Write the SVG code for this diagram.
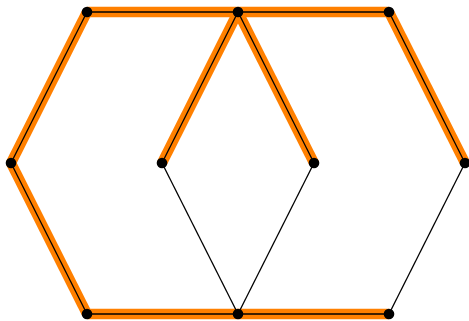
<svg xmlns="http://www.w3.org/2000/svg" width="469" height="321" viewBox="0 0 469 321">
<style>
.hl{stroke:#ff8000;stroke-width:10.5;fill:none;stroke-linecap:butt}
.e{stroke:#000;stroke-width:1.3;fill:none}
.n{fill:#000}
</style>
<rect width="469" height="321" fill="#fff"/>
<g id="connectors">
<g id="highlight">
<line class="hl" x1="87" y1="12" x2="238" y2="12"/>
<line class="hl" x1="238" y1="12" x2="389" y2="12"/>
<line class="hl" x1="87" y1="12" x2="11" y2="163"/>
<line class="hl" x1="11" y1="163" x2="87" y2="314"/>
<line class="hl" x1="87" y1="314" x2="238" y2="314"/>
<line class="hl" x1="238" y1="314" x2="389" y2="314"/>
<line class="hl" x1="389" y1="12" x2="465" y2="163"/>
<line class="hl" x1="238" y1="12" x2="162" y2="163"/>
<line class="hl" x1="238" y1="12" x2="314" y2="163"/>
</g>
<line class="e" x1="87" y1="12" x2="238" y2="12"/>
<line class="e" x1="238" y1="12" x2="389" y2="12"/>
<line class="e" x1="87" y1="12" x2="11" y2="163"/>
<line class="e" x1="11" y1="163" x2="87" y2="314"/>
<line class="e" x1="87" y1="314" x2="238" y2="314"/>
<line class="e" x1="238" y1="314" x2="389" y2="314"/>
<line class="e" x1="389" y1="12" x2="465" y2="163"/>
<line class="e" x1="238" y1="12" x2="162" y2="163"/>
<line class="e" x1="238" y1="12" x2="314" y2="163"/>
<line class="e" x1="465" y1="163" x2="389" y2="314"/>
<line class="e" x1="162" y1="163" x2="238" y2="314"/>
<line class="e" x1="314" y1="163" x2="238" y2="314"/>
</g>
<g id="n1"><circle class="n" cx="87" cy="12" r="5.3"/></g>
<g id="n2"><circle class="n" cx="238" cy="12" r="5.3"/></g>
<g id="n3"><circle class="n" cx="389" cy="12" r="5.3"/></g>
<g id="n4"><circle class="n" cx="11" cy="163" r="5.3"/></g>
<g id="n5"><circle class="n" cx="162" cy="163" r="5.3"/></g>
<g id="n6"><circle class="n" cx="314" cy="163" r="5.3"/></g>
<g id="n7"><circle class="n" cx="465" cy="163" r="5.3"/></g>
<g id="n8"><circle class="n" cx="87" cy="314" r="5.3"/></g>
<g id="n9"><circle class="n" cx="238" cy="314" r="5.3"/></g>
<g id="n10"><circle class="n" cx="389" cy="314" r="5.3"/></g>
</svg>
